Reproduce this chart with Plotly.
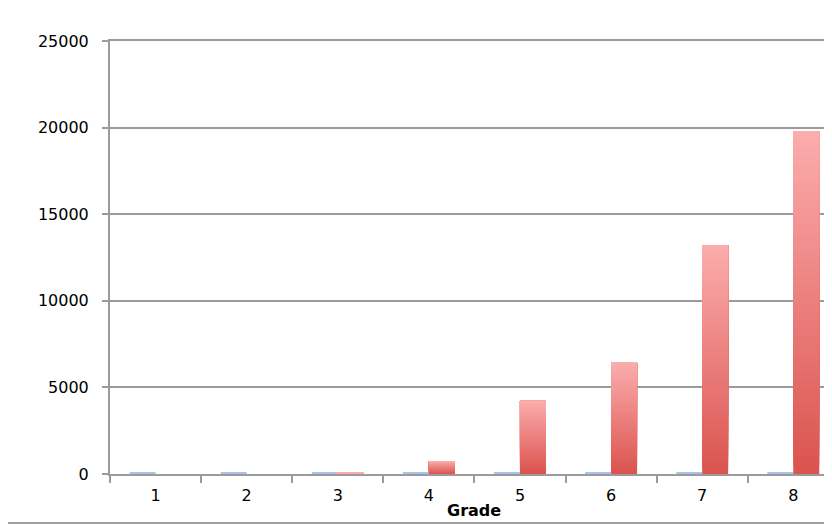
import plotly.graph_objects as go

grades = ["1", "2", "3", "4", "5", "6", "7", "8"]
blue_values = [60, 70, 70, 70, 80, 80, 90, 90]
red_values = [0, 0, 60, 750, 4230, 6450, 13200, 19800]
y_ticks = [0, 5000, 10000, 15000, 20000, 25000]

N_SEG = 40
bottom_rgb = (219, 84, 79)
top_rgb = (251, 172, 172)

fig = go.Figure()

fig.add_trace(go.Bar(
    x=grades, y=blue_values, offset=-0.285, width=0.285,
    marker=dict(color="#a9c3ec", line=dict(width=0)),
    showlegend=False, hoverinfo="skip",
))

# red bars with vertical gradient: overlapping bars drawn bottom-to-top
xs, bases, ys, cols = [], [], [], []
for i in range(N_SEG):
    t = i / (N_SEG - 1)
    c = tuple(round(bottom_rgb[k] + (top_rgb[k] - bottom_rgb[k]) * t) for k in range(3))
    for g, v in zip(grades, red_values):
        if v <= 0:
            continue
        b = v * i / N_SEG
        xs.append(g)
        bases.append(b)
        ys.append(v - b)
        cols.append("rgb(%d,%d,%d)" % c)

fig.add_trace(go.Bar(
    x=xs, y=ys, base=bases, offset=0, width=0.285,
    marker=dict(color=cols, line=dict(width=0)),
    showlegend=False, hoverinfo="skip",
))

axis_col = "#9b9b9b"
fig.update_layout(
    width=824, height=516,
    margin=dict(l=102, r=0, t=33, b=50),
    barmode="overlay",
    paper_bgcolor="white", plot_bgcolor="white",
    font=dict(family="DejaVu Sans", size=16, color="black"),
    xaxis=dict(
        type="category", range=[-0.5, 7.425],
        showline=True, mirror=True, linecolor=axis_col, linewidth=2,
        ticks="outside", tickson="boundaries", ticklen=7, tickwidth=2, tickcolor=axis_col,
        showgrid=False, ticklabelstandoff=6,
    ),
    yaxis=dict(
        range=[0, 25000], tickvals=y_ticks, ticktext=[str(v) for v in y_ticks],
        showline=True, linecolor=axis_col, linewidth=2,
        ticks="outside", ticklen=6, tickwidth=2, tickcolor=axis_col,
        showgrid=True, gridcolor=axis_col, gridwidth=2,
        zeroline=False, ticklabelstandoff=10,
    ),
    annotations=[dict(
        text="<b>Grade</b>", x=3.5, xref="x", y=-0.085, yref="paper",
        xanchor="center", yanchor="middle", showarrow=False,
        font=dict(size=16, family="DejaVu Sans", color="black"),
    )],
    shapes=[dict(
        type="line", xref="paper", yref="paper",
        x0=-102 / 722, x1=1, y0=-49 / 433, y1=-49 / 433,
        line=dict(color="#a0a0a0", width=2),
    )],
)

fig.write_html("out.html")
